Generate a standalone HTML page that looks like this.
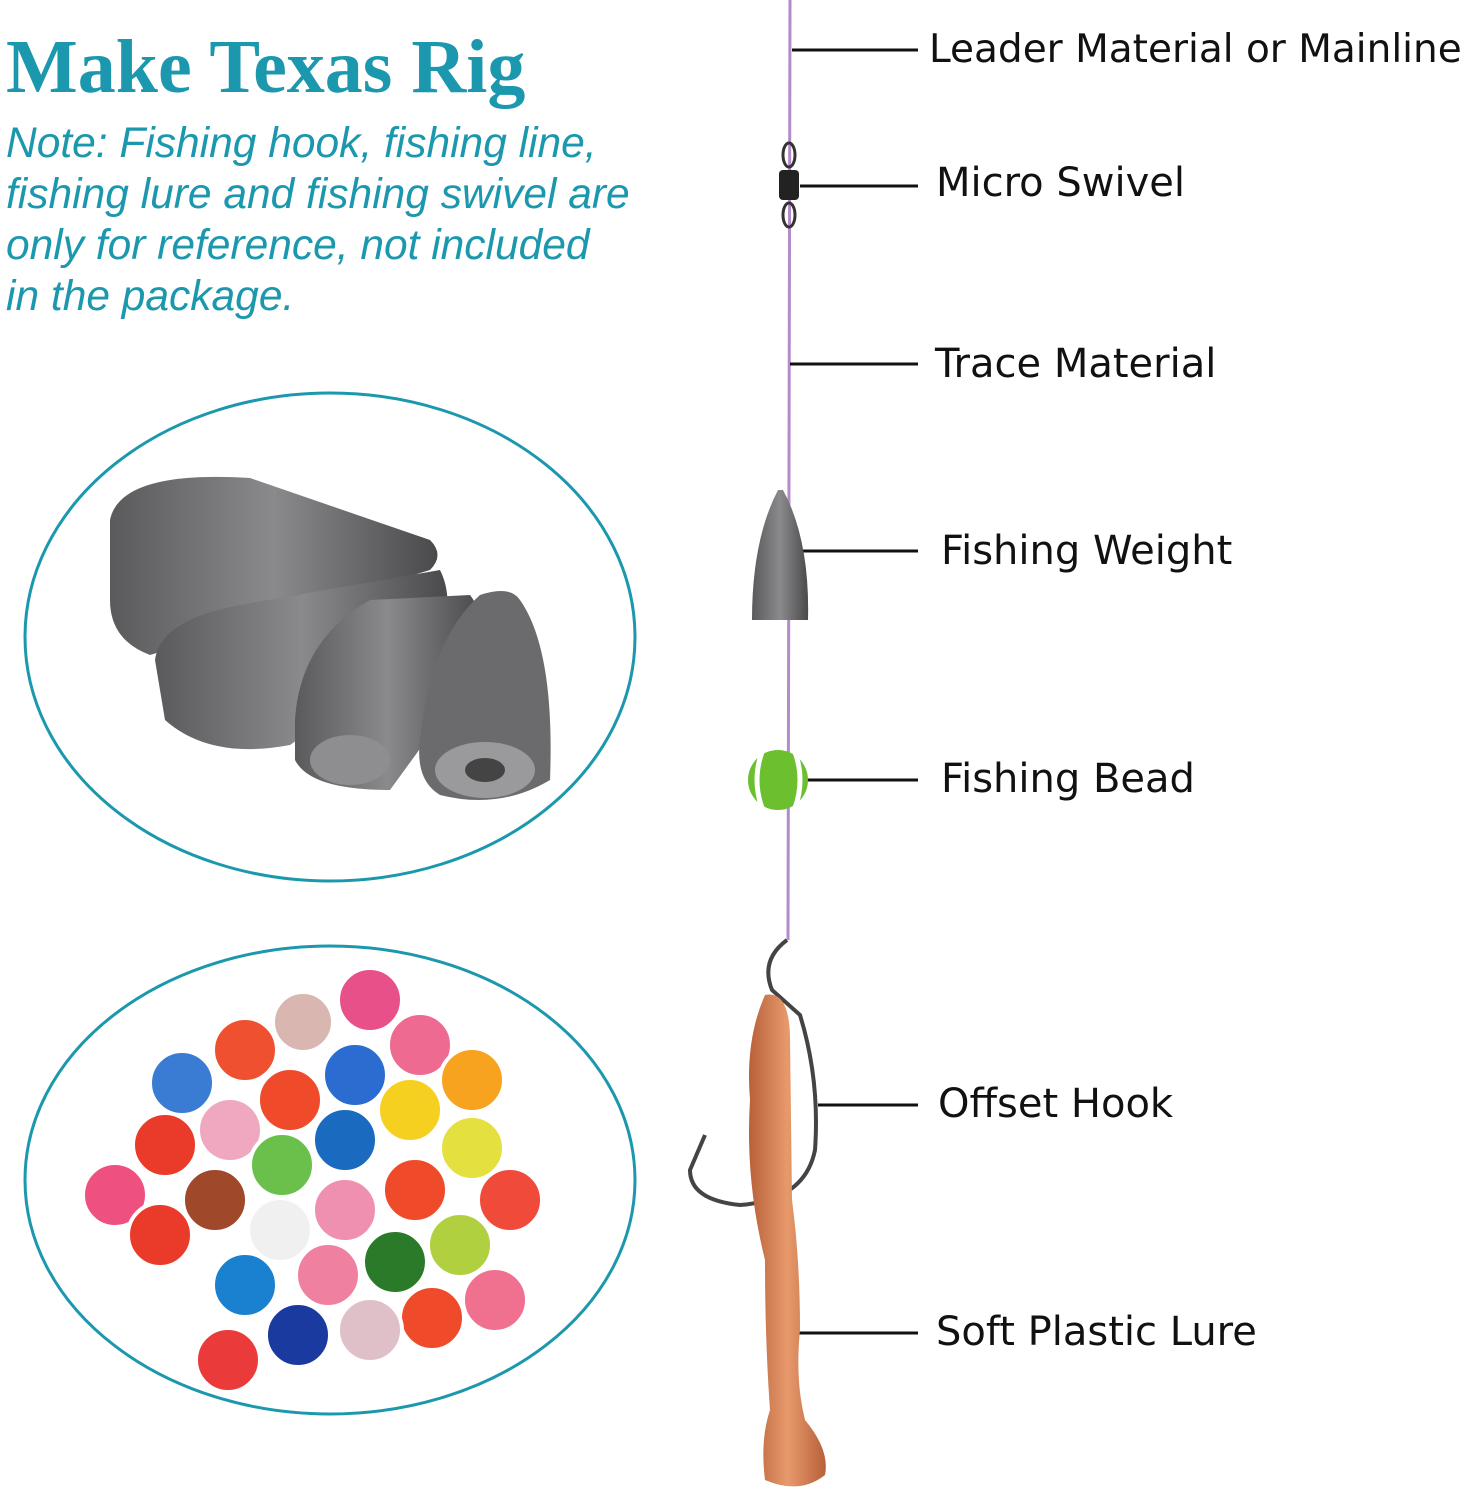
<!DOCTYPE html>
<html><head><meta charset="utf-8"><style>
html,body{margin:0;padding:0;background:#fff;}
body{width:1465px;height:1500px;position:relative;overflow:hidden;}
.t{position:absolute;left:6px;top:24px;font-family:"Liberation Serif",serif;font-weight:bold;font-size:76px;color:#1b98ad;white-space:nowrap;}
.n{position:absolute;left:6px;top:118px;font-family:"Liberation Sans",sans-serif;font-style:italic;font-size:42.5px;line-height:51px;color:#1b98ad;white-space:nowrap;}
.l{position:absolute;left:932px;font-family:"DejaVu Sans","Liberation Sans",sans-serif;font-size:40px;color:#111;white-space:nowrap;}
svg{position:absolute;left:0;top:0;}
</style></head><body>
<svg width="1465" height="1500" viewBox="0 0 1465 1500">
<defs>
<linearGradient id="lead" x1="0" x2="1"><stop offset="0" stop-color="#5a5a5c"/><stop offset=".5" stop-color="#8a8a8c"/><stop offset="1" stop-color="#4a4a4c"/></linearGradient>
<linearGradient id="worm" x1="0" x2="1"><stop offset="0" stop-color="#b8603a"/><stop offset=".5" stop-color="#e79a6c"/><stop offset="1" stop-color="#b8603a"/></linearGradient>
</defs>
<ellipse cx="330" cy="637" rx="305" ry="244" fill="#fff" stroke="#1b98ad" stroke-width="3"/>
<ellipse cx="330" cy="1180" rx="305" ry="234" fill="#fff" stroke="#1b98ad" stroke-width="3"/>
<path d="M110 520 Q120 470 250 478 L430 540 Q445 555 430 570 L150 655 Q110 640 110 600Z" fill="url(#lead)"/>
<path d="M155 660 Q160 620 240 605 L440 570 Q455 600 440 640 L290 745 Q210 760 165 720Z" fill="url(#lead)"/>
<path d="M295 720 Q300 640 370 600 L470 595 Q490 620 470 680 L390 790 Q310 790 295 760Z" fill="url(#lead)"/>
<path d="M420 740 Q430 640 480 595 Q510 585 520 600 Q555 650 550 780 Q500 810 440 795 Q415 780 420 740Z" fill="#6b6b6d"/>
<ellipse cx="485" cy="770" rx="50" ry="28" fill="#9a9a9c"/><ellipse cx="485" cy="770" rx="20" ry="12" fill="#444"/>
<ellipse cx="350" cy="760" rx="40" ry="25" fill="#8e8e90"/>
<g stroke="#fff" stroke-width="4">
<circle cx="370" cy="1000" r="32" fill="#e8508a"/><circle cx="303" cy="1022" r="30" fill="#d9b6b0"/>
<circle cx="245" cy="1050" r="32" fill="#ef5030"/><circle cx="420" cy="1045" r="32" fill="#ef6a90"/>
<circle cx="182" cy="1083" r="32" fill="#3a7bd4"/><circle cx="355" cy="1075" r="32" fill="#2a6cd0"/>
<circle cx="472" cy="1080" r="32" fill="#f7a320"/><circle cx="290" cy="1100" r="32" fill="#ef4a2a"/>
<circle cx="410" cy="1110" r="32" fill="#f5d020"/><circle cx="165" cy="1145" r="32" fill="#ea3a2a"/>
<circle cx="230" cy="1130" r="32" fill="#f0a8c0"/><circle cx="345" cy="1140" r="32" fill="#1a6abf"/>
<circle cx="472" cy="1148" r="32" fill="#e4e040"/><circle cx="282" cy="1165" r="32" fill="#6ac04a"/>
<circle cx="115" cy="1195" r="32" fill="#ee5080"/><circle cx="215" cy="1200" r="32" fill="#a0482a"/>
<circle cx="345" cy="1210" r="32" fill="#f090b0"/><circle cx="415" cy="1190" r="32" fill="#ef4a2a"/>
<circle cx="510" cy="1200" r="32" fill="#ef4a3a"/><circle cx="160" cy="1235" r="32" fill="#ea3a2a"/>
<circle cx="280" cy="1230" r="32" fill="#f0f0f0"/><circle cx="460" cy="1245" r="32" fill="#b0d040"/>
<circle cx="395" cy="1262" r="32" fill="#2a7a2a"/><circle cx="245" cy="1285" r="32" fill="#1a80d0"/>
<circle cx="328" cy="1275" r="32" fill="#f080a0"/><circle cx="495" cy="1300" r="32" fill="#f07090"/>
<circle cx="432" cy="1318" r="32" fill="#ef4a2a"/><circle cx="298" cy="1335" r="32" fill="#1a3aa0"/>
<circle cx="370" cy="1330" r="32" fill="#e0c0c8"/><circle cx="228" cy="1360" r="32" fill="#ea3a3a"/>
</g>
<line x1="790" y1="0" x2="788" y2="940" stroke="#b48ac8" stroke-width="3"/>
<g stroke="#111" stroke-width="3">
<line x1="792" y1="50" x2="918" y2="50"/><line x1="800" y1="186" x2="918" y2="186"/>
<line x1="790" y1="364" x2="918" y2="364"/><line x1="800" y1="551" x2="918" y2="551"/>
<line x1="790" y1="780" x2="918" y2="780"/><line x1="818" y1="1105" x2="918" y2="1105"/>
<line x1="790" y1="1333" x2="918" y2="1333"/>
</g>
<ellipse cx="789" cy="155" rx="6" ry="12" fill="none" stroke="#333" stroke-width="3"/>
<rect x="779" y="170" width="20" height="30" rx="4" fill="#222"/>
<ellipse cx="789" cy="215" rx="6" ry="12" fill="none" stroke="#333" stroke-width="3"/>
<path d="M783 490 Q810 540 808 620 L752 620 Q752 540 778 490Z" fill="url(#lead)"/>
<circle cx="778" cy="780" r="30" fill="#6cc030"/>
<g stroke="#fff" stroke-width="5" fill="none"><path d="M762 752 Q752 780 762 808"/><path d="M795 752 Q805 780 795 808"/></g>
<path d="M787 940 Q760 960 772 990 L800 1015 Q820 1080 815 1150 Q805 1200 740 1205 Q690 1200 690 1170 L705 1135" fill="none" stroke="#444" stroke-width="4"/>
<path d="M765 995 Q790 990 790 1040 L792 1200 Q800 1260 800 1330 Q795 1380 805 1420 Q830 1450 825 1475 Q800 1495 765 1480 Q760 1440 770 1410 Q765 1340 765 1260 Q745 1180 750 1100 Q745 1040 765 995Z" fill="url(#worm)"/>
</svg>
<div class="t">Make Texas Rig</div>
<div class="n">Note: Fishing hook, fishing line,<br>fishing lure and fishing swivel are<br>only for reference, not included<br>in the package.</div>
<div class="l" style="top:27px;left:929px;font-size:39px">Leader Material or Mainline</div>
<div class="l" style="top:160px;left:936px">Micro Swivel</div>
<div class="l" style="top:341px;left:935px">Trace Material</div>
<div class="l" style="top:528px;left:941px">Fishing Weight</div>
<div class="l" style="top:756px;left:941px">Fishing Bead</div>
<div class="l" style="top:1081px;left:938px">Offset Hook</div>
<div class="l" style="top:1309px;left:936px">Soft Plastic Lure</div>
</body></html>
